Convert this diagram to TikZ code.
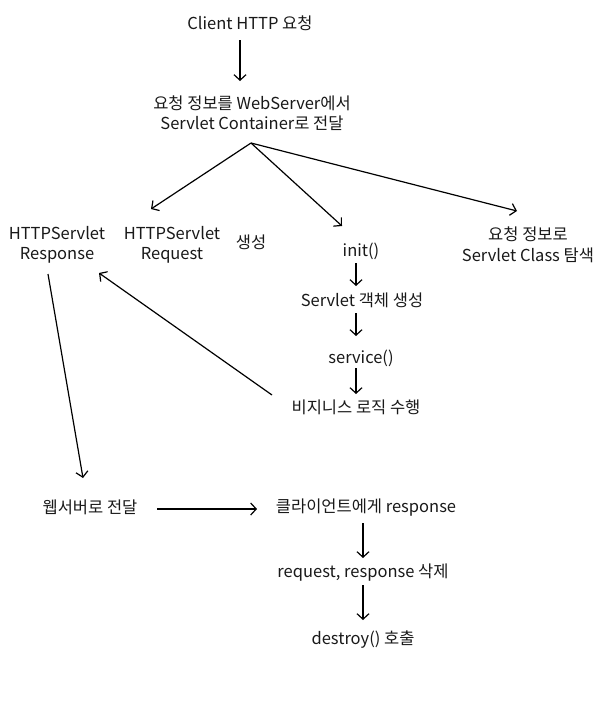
\documentclass[tikz,border=0pt]{standalone}
\usepackage{fontspec}
\setmainfont{Noto Sans CJK KR}
\usetikzlibrary{arrows.meta}
\begin{document}
\begin{tikzpicture}[x=1pt,y=-1pt,
  lbl/.style={font=\fontsize{16.5}{20.5}\selectfont, align=center, inner sep=0pt, text=black!90},
  arr/.style={line width=1.2pt, -{Straight Barb[length=5.5pt,width=12pt,line width=1.2pt]}}]
\useasboundingbox (0,0) rectangle (603,721);
\fill[white] (0,0) rectangle (603,721);
% nodes
\node[lbl] (client) at (250,23) {Client HTTP 요청};
\node[lbl] (web) at (252,113) {요청 정보를 WebServer에서\\Servlet Container로 전달};
\node[lbl] (resp) at (57,245) {HTTPServlet\\Response};
\node[lbl] (req) at (172,245) {HTTPServlet\\Request};
\node[lbl] (gen) at (251,242) {생성};
\node[lbl] (init) at (361,251) {init()};
\node[lbl] (find) at (528,245) {요청 정보로\\Servlet Class 탐색};
\node[lbl] (obj) at (362,300) {Servlet 객체 생성};
\node[lbl] (svc) at (361,358) {service()};
\node[lbl] (biz) at (356,407) {비지니스 로직 수행};
\node[lbl] (tows) at (90,507) {웹서버로 전달};
\node[lbl] (cli) at (366,508) {클라이언트에게 response};
\node[lbl] (del) at (363,573) {request, response 삭제};
\node[lbl] (destroy) at (363,640) {destroy() 호출};
% branch point
\coordinate (br) at ([shift={(-1,30)}]web.center);
% connectors
\draw[arr] ([shift={(-10,17)}]client.center) -- ([shift={(-12,-32)}]web.center);
\draw[arr] (br) -- ([shift={(-21,-36)}]req.center);
\draw[arr] (br) -- ([shift={(-19,-25)}]init.center);
\draw[arr] (br) -- ([shift={(-11,-34)}]find.center);
\draw[arr] ([shift={(-5,12)}]init.center) -- ([shift={(-6,-14)}]obj.center);
\draw[arr] ([shift={(-6,13)}]obj.center) -- ([shift={(-5,-22)}]svc.center);
\draw[arr] ([shift={(-5,10)}]svc.center) -- ([shift={(0,-13)}]biz.center);
\draw[arr] ([shift={(-84,-12)}]biz.center) -- ([shift={(42,28)}]resp.center);
\draw[arr] ([shift={(-9,29)}]resp.center) -- ([shift={(-7,-29)}]tows.center);
\draw[arr] ([shift={(67,2)}]tows.center) -- ([shift={(-109,1)}]cli.center);
\draw[arr] ([shift={(-3,15)}]cli.center) -- ([shift={(0,-15)}]del.center);
\draw[arr] ([shift={(0,12)}]del.center) -- ([shift={(0,-20)}]destroy.center);
\end{tikzpicture}
\end{document}
